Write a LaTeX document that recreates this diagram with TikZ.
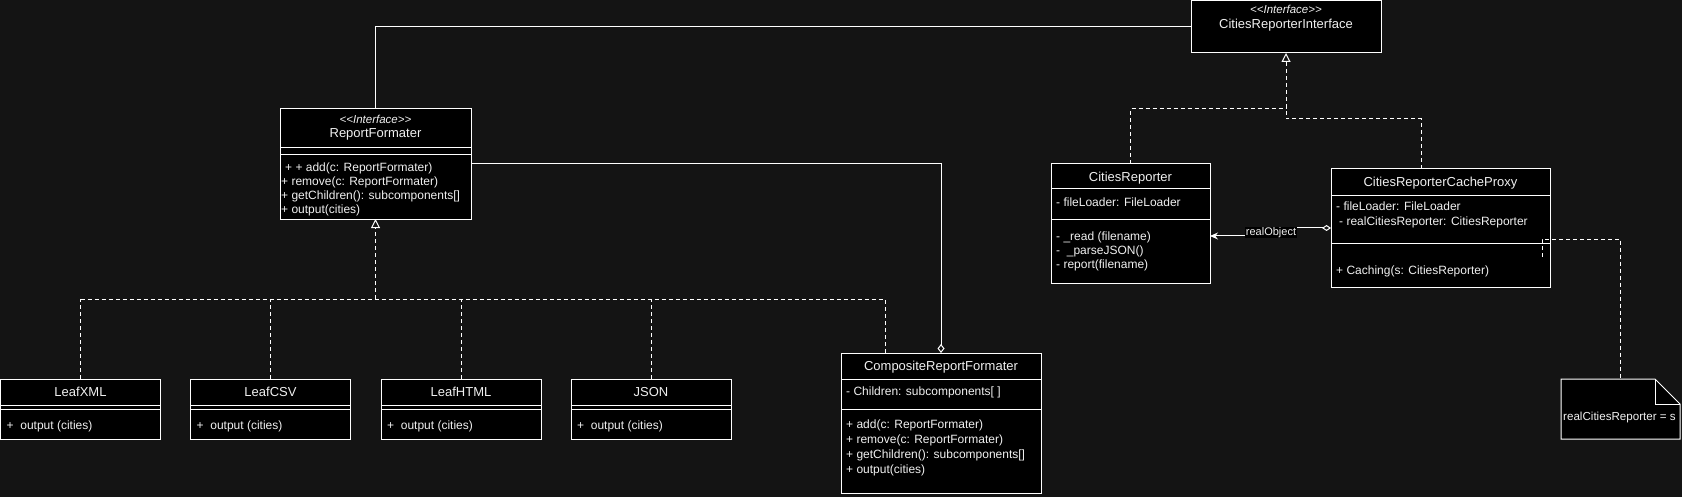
\documentclass[tikz,border=0pt]{standalone}
\usepackage{fontspec}
\setmainfont{Liberation Sans}
\usetikzlibrary{arrows.meta,calc}
\definecolor{bg}{HTML}{141414}
\definecolor{fg}{HTML}{F0F0F0}
\newcommand{\stereo}{<\kern0pt<Interface>\kern0pt>}
\begin{document}
\begin{tikzpicture}[x=1bp,y=-1bp,
  box/.style={draw=white, fill=black, line width=1bp, anchor=north west, inner sep=0pt, outer sep=0pt},
  ttl/.style={text=fg, font=\fontsize{13bp}{15bp}\selectfont, inner sep=0pt, text height=9.5bp, text depth=3bp},
  ster/.style={text=fg, font=\fontsize{11.5bp}{13bp}\selectfont\itshape, inner sep=0pt, text height=8.5bp, text depth=2.5bp},
  mem/.style={text=fg, font=\fontsize{12bp}{14bp}\selectfont, inner sep=0pt, anchor=west, text height=9bp, text depth=3.5bp},
  sep/.style={draw=white, line width=1bp},
  link/.style={draw=white, line width=1bp},
  dlink/.style={draw=white, line width=1bp, dash pattern=on 4bp off 3bp},
  real/.style={-{Triangle[open, length=9bp, width=9bp]}},
]
\useasboundingbox[fill=bg] (0,0) rectangle (1682,497);

% ---------- CitiesReporterInterface
\node[box, minimum width=190bp, minimum height=52.5bp] (cri) at (1191,0.5) {};
\node[ster] (cri-s) at (1286,11) {\stereo};
\node[ttl] (cri-t) at (1286,25) {CitiesReporterInterface};

% ---------- ReportFormater
\node[box, minimum width=191bp, minimum height=110bp] (rf) at (280,109) {};
\draw[sep] ($(rf.north west)+(0,39)$) -- ($(rf.north east)+(0,39)$);
\draw[sep] ($(rf.north west)+(0,46)$) -- ($(rf.north east)+(0,46)$);
\node[ster] (rf-s) at (375.5,121) {\stereo};
\node[ttl] (rf-t) at (375.5,134) {ReportFormater};
\node[mem] (rf-m1) at (285,169) {+ + add(c: ReportFormater)};
\node[mem] (rf-m2) at (281,183) {+ remove(c: ReportFormater)};
\node[mem] (rf-m3) at (281,197) {+ getChildren(): subcomponents[]};
\node[mem] (rf-m4) at (281,211) {+ output(cities)};

% ---------- Leaves
\node[box, minimum width=160bp, minimum height=60bp] (lx) at (0.5,379) {};
\node[box, minimum width=160bp, minimum height=60bp] (lc) at (190.5,379) {};
\node[box, minimum width=160bp, minimum height=60bp] (lh) at (381,379) {};
\node[box, minimum width=160bp, minimum height=60bp] (lj) at (571,379) {};
\foreach \b in {lx,lc,lh,lj}{
  \draw[sep] ($(\b.north west)+(0,26)$) -- ($(\b.north east)+(0,26)$);
  \draw[sep] ($(\b.north west)+(0,30)$) -- ($(\b.north east)+(0,30)$);
}
\node[ttl] (lx-t) at ($(lx.north)+(0,14)$) {LeafXML};
\node[ttl] (lc-t) at ($(lc.north)+(0,14)$) {LeafCSV};
\node[ttl] (lh-t) at ($(lh.north)+(0,14)$) {LeafHTML};
\node[ttl] (lj-t) at ($(lj.north)+(0,14)$) {JSON};
\node[mem] (lx-m) at ($(lx.north west)+(6,48)$) {+\ \ output (cities)};
\node[mem] (lc-m) at ($(lc.north west)+(6,48)$) {+\ \ output (cities)};
\node[mem] (lh-m) at ($(lh.north west)+(6,48)$) {+\ \ output (cities)};
\node[mem] (lj-m) at ($(lj.north west)+(6,48)$) {+\ \ output (cities)};

% ---------- CompositeReportFormater
\node[box, minimum width=200bp, minimum height=140bp] (crf) at (841,353) {};
\draw[sep] ($(crf.north west)+(0,26)$) -- ($(crf.north east)+(0,26)$);
\draw[sep] ($(crf.north west)+(0,56)$) -- ($(crf.north east)+(0,56)$);
\node[ttl] (crf-t) at ($(crf.north)+(0,14)$) {CompositeReportFormater};
\node[mem] (crf-a) at (846,393) {- Children: subcomponents[ ]};
\node[mem] (crf-m1) at (846,426) {+ add(c: ReportFormater)};
\node[mem] (crf-m2) at (846,441) {+ remove(c: ReportFormater)};
\node[mem] (crf-m3) at (846,456) {+ getChildren(): subcomponents[]};
\node[mem] (crf-m4) at (846,471) {+ output(cities)};

% ---------- CitiesReporter
\node[box, minimum width=159bp, minimum height=119bp] (cr) at (1051,164) {};
\draw[sep] ($(cr.north west)+(0,25)$) -- ($(cr.north east)+(0,25)$);
\draw[sep] ($(cr.north west)+(0,56)$) -- ($(cr.north east)+(0,56)$);
\node[ttl] (cr-t) at ($(cr.north)+(0,14)$) {CitiesReporter};
\node[mem] (cr-a) at (1056,204) {- fileLoader: FileLoader};
\node[mem] (cr-m1) at (1056,238) {- \_read (filename)};
\node[mem] (cr-m2) at (1056,252) {- \ \_parseJSON()};
\node[mem] (cr-m3) at (1056,266) {- report(filename)};

% ---------- CitiesReporterCacheProxy
\node[box, minimum width=219bp, minimum height=118bp] (crp) at (1331,169) {};
\draw[sep] ($(crp.north west)+(0,27)$) -- ($(crp.north east)+(0,27)$);
\draw[sep] ($(crp.north west)+(0,75)$) -- ($(crp.north east)+(0,75)$);
\node[ttl] (crp-t) at ($(crp.north)+(0,14)$) {CitiesReporterCacheProxy};
\node[mem] (crp-a1) at (1336,208) {- fileLoader: FileLoader};
\node[mem] (crp-a2) at (1339,223) {- realCitiesReporter: CitiesReporter};
\node[mem] (crp-m1) at (1336,272) {+ Caching(s: CitiesReporter)};

% ---------- Note
\node[anchor=north west, minimum width=119bp, minimum height=60bp, inner sep=0pt, outer sep=0pt] (note) at (1561,379) {};
\draw[line width=1bp, draw=white, fill=black] (note.north west) -- ($(note.north east)+(-25,0)$) -- ($(note.north east)+(0,25)$) -- (note.south east) -- (note.south west) -- cycle;
\draw[line width=1bp, draw=white] ($(note.north east)+(-25,0)$) -- ($(note.north east)+(-25,25)$) -- ($(note.north east)+(0,25)$);
\node[mem, font=\fontsize{11.6bp}{14bp}\selectfont] (note-t) at (1563,418) {realCitiesReporter = s};

% ---------- Connectors
\draw[link] (rf.north) |- (cri.west);

\coordinate (bus) at ($(rf.south)+(0,80)$);
\coordinate (crfa) at ($(crf.north west)+(44,0)$);
\draw[dlink, real] (bus) -- (rf.south);
\draw[dlink] (lx.north |- bus) -- (crfa |- bus);
\draw[dlink] (lx.north) -- (lx.north |- bus);
\draw[dlink] (lc.north) -- (lc.north |- bus);
\draw[dlink] (lh.north) -- (lh.north |- bus);
\draw[dlink] (lj.north) -- (lj.north |- bus);
\draw[dlink] (crfa) -- (crfa |- bus);

\draw[link, {Diamond[open, length=9bp, width=7bp]}-] (crf.north) |- (rf.east);

\coordinate (j1) at ($(cri.south)+(0,56)$);
\coordinate (j2) at ($(cri.south)+(0,66)$);
\coordinate (crpa) at ($(crp.north west)+(90,0)$);
\draw[dlink] (cr.north) |- (j1);
\draw[dlink, real] (crpa) |- (j2) -- (cri.south);

\coordinate (rob) at (1271,232.5);
\coordinate (crtip) at ($(cr.east)+(0,12.5)$);
\draw[link, {Diamond[open, length=9bp, width=6bp]}-{Stealth[length=8bp, width=7bp]}]
  (crp.west) -- (crp.west -| rob) -- (rob |- crtip) -- (crtip);
\node[fill=black, text=fg, font=\fontsize{11bp}{13bp}\selectfont, inner sep=0.5bp, text height=8bp, text depth=2.5bp] (robj) at (rob) {realObject};

\coordinate (pa) at ($(crp.south east)+(-8,-30)$);
\draw[dlink] (pa) -- ++(0,-18) -| (note.north);
\end{tikzpicture}
\end{document}
